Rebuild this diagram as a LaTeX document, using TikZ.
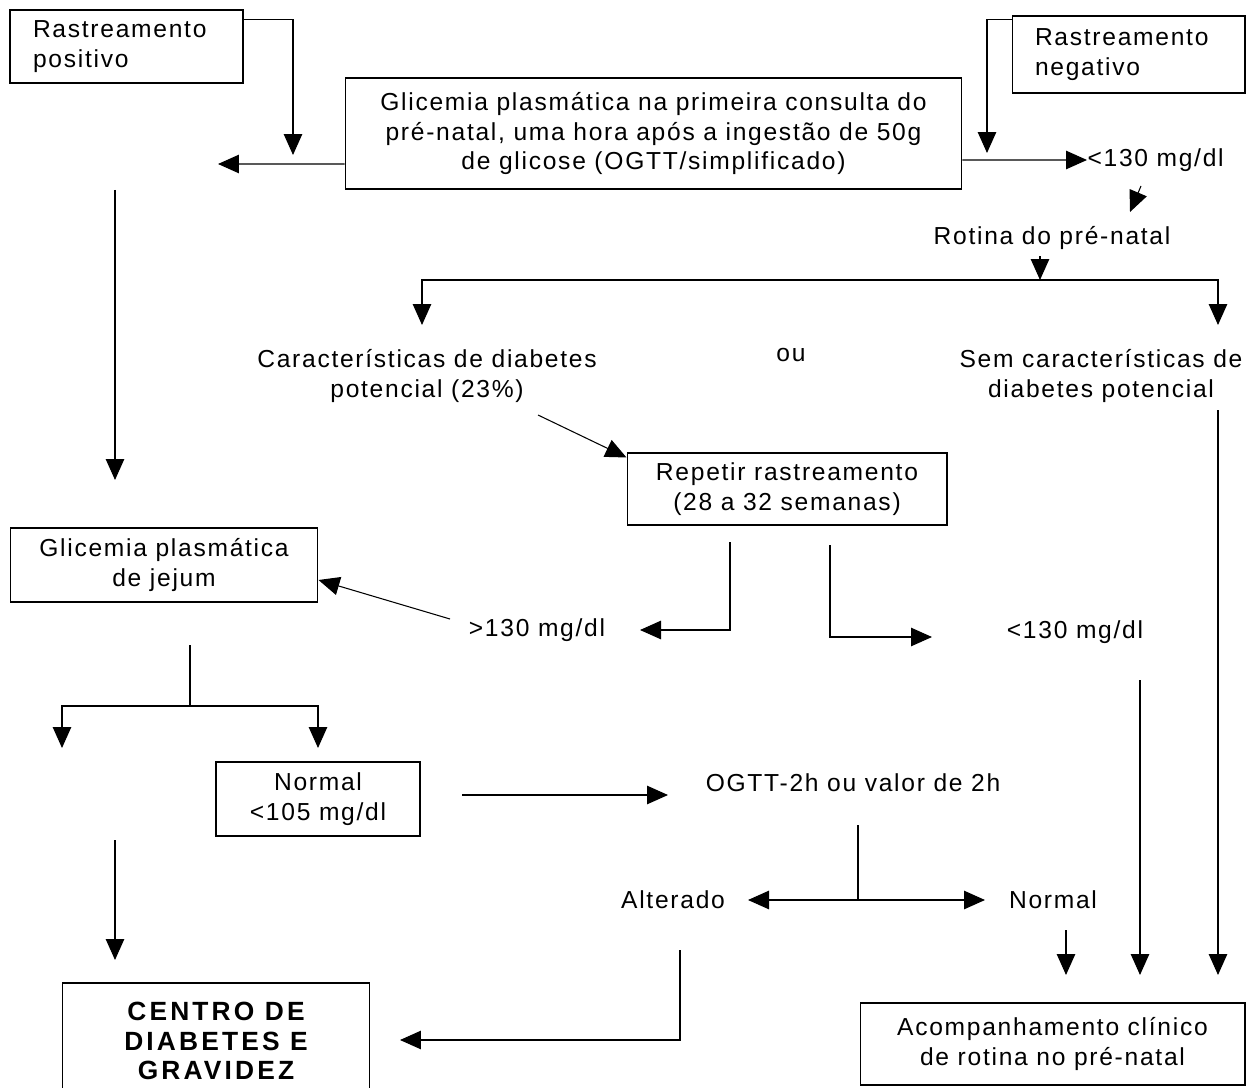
\documentclass[tikz,border=0pt]{standalone}
\usepackage{fontspec}
\setmainfont{Liberation Sans}[LetterSpace=7,BoldFeatures={LetterSpace=12}]
\usetikzlibrary{arrows.meta}

\begin{document}
\begin{tikzpicture}[x=0.02cm, y=-0.02cm, line width=0.6pt,
        font=\fontsize{14}{17}\selectfont,
        caixa/.style={draw, align=center},
        texto/.style={align=center, inner sep=0pt},
        seta/.style={-{Triangle[length=0.42cm, width=0.37cm]}},
        ambas/.style={{Triangle[length=0.42cm, width=0.37cm]}-{Triangle[length=0.42cm, width=0.37cm]}}]
    \useasboundingbox (0,0) rectangle (1255,1088);
    \node[caixa, minimum width=4.66cm, minimum height=1.46cm, text width=3.74cm, align=left] (pos) at (126.5,46.5) {Rastreamento\\positivo};
    \node[caixa, minimum width=12.34cm, minimum height=2.22cm] (glic) at (653.5,133.5) {Glicemia plasmática na primeira consulta do\\pré-natal, uma hora após a ingestão de 50g\\de glicose (OGTT/simplificado)};
    \node[caixa, minimum width=4.66cm, minimum height=1.54cm, text width=3.74cm, align=left] (neg) at (1128.5,54.5) {Rastreamento\\negativo};
    \node[texto, anchor=west] (lt130a) at (1087,160) {<130 mg/dl};
    \node[texto] (rotina) at (1052,238) {Rotina do pré-natal};
    \node[texto] (carac) at (427,376) {Características de diabetes\\potencial (23\%)};
    \node[texto] (ou) at (791,355) {ou};
    \node[texto] (sem) at (1101,376) {Sem características de\\diabetes potencial};
    \node[caixa, minimum width=6.4cm, minimum height=1.44cm] (rep) at (787,489) {Repetir rastreamento\\(28 a 32 semanas)};
    \node[caixa, minimum width=6.16cm, minimum height=1.48cm] (jejum) at (164,565) {Glicemia plasmática\\de jejum};
    \node[texto] (gt130) at (537,630) {>130 mg/dl};
    \node[texto] (lt130b) at (1075,632) {<130 mg/dl};
    \node[caixa, minimum width=4.08cm, minimum height=1.48cm] (normal) at (318,799) {Normal\\<105 mg/dl};
    \node[texto] (ogtt) at (853,783) {OGTT-2h ou valor de 2h};
    \node[texto] (alt) at (673,900) {Alterado};
    \node[texto] (norm) at (1053,900) {Normal};
    \node[caixa, font=\fontsize{15}{17}\selectfont\bfseries, minimum width=6.16cm, minimum height=2.32cm] (centro) at (216,1041) {CENTRO DE\\DIABETES E\\GRAVIDEZ};
    \node[caixa, minimum width=7.7cm, minimum height=1.64cm] (acomp) at (1052.5,1044) {Acompanhamento clínico\\de rotina no pré-natal};

    \coordinate (p1) at (293,155);
    \coordinate (e1) at (218,164);
    \coordinate (n1) at (987,153);
    \coordinate (d1) at (1141,186);
    \coordinate (d2) at (1130,212);
    \coordinate (r1) at (1040,256);
    \coordinate (r2) at (1040,280);
    \coordinate (h1) at (422,325);
    \coordinate (h2) at (1218,325);
    \coordinate (c1) at (538,415);
    \coordinate (v1) at (115,190);
    \coordinate (v2) at (115,480);
    \coordinate (g1) at (450,619);
    \coordinate (q1) at (730,542);
    \coordinate (q2) at (640,630);
    \coordinate (s1) at (830,545);
    \coordinate (s2) at (932,637);
    \coordinate (l1) at (1140,680);
    \coordinate (l2) at (1140,975);
    \coordinate (m1) at (1218,410);
    \coordinate (m2) at (1218,975);
    \coordinate (j1) at (190,645);
    \coordinate (j2) at (190,706);
    \coordinate (j3) at (62,748);
    \coordinate (j4) at (318,748);
    \coordinate (k1) at (462,795);
    \coordinate (k2) at (668,795);
    \coordinate (o1) at (858,825);
    \coordinate (o2) at (858,900);
    \coordinate (o3) at (748,900);
    \coordinate (o4) at (985,900);
    \coordinate (u1) at (1066,930);
    \coordinate (u2) at (1066,975);
    \coordinate (a1) at (680,950);
    \coordinate (a2) at (400,1040);
    \coordinate (w1) at (115,840);
    \coordinate (w2) at (115,960);

    \draw[seta] ([yshift=-0.2cm]pos.north east) -| (p1);
    \draw[seta] ([yshift=-0.61cm]glic.west) -- (e1);
    \draw[seta] ([yshift=-0.08cm]neg.north west) -| (n1);
    \draw[seta] ([yshift=-0.53cm]glic.east) -- (lt130a.west);
    \draw[seta] (d1) -- (d2);
    \draw[seta] (r1) -- (r2);
    \draw[ambas] (h1) |- (r2) -| (h2);
    \draw[seta] (c1) -- ([yshift=-0.1cm]rep.north west);
    \draw[seta] (v1) -- (v2);
    \draw[seta] (g1) -- ([yshift=-0.3cm]jejum.east);
    \draw[seta] (q1) |- (q2);
    \draw[seta] (s1) |- (s2);
    \draw[seta] (l1) -- (l2);
    \draw[seta] (m1) -- (m2);
    \draw (j1) -- (j2);
    \draw[ambas] (j3) |- (j2) -| (j4);
    \draw[seta] (k1) -- (k2);
    \draw (o1) -- (o2);
    \draw[ambas] (o3) -- (o4);
    \draw[seta] (u1) -- (u2);
    \draw[seta] (a1) |- (a2);
    \draw[seta] (w1) -- (w2);
\end{tikzpicture}
\end{document}
